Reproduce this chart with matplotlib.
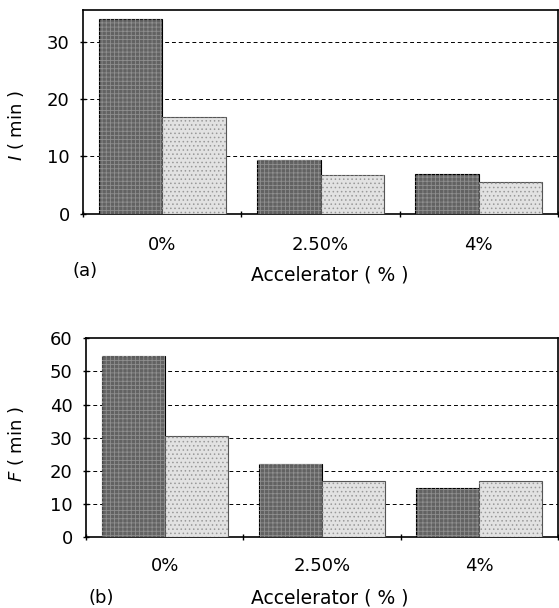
import numpy as np
import matplotlib
matplotlib.use("Agg")
import matplotlib.pyplot as plt

categories = ["0%", "2.50%", "4%"]
i_dark = [34, 9.3, 6.9]
i_light = [16.8, 6.8, 5.5]
f_dark = [54.6, 22, 15]
f_light = [30.6, 17, 17]

plt.rcParams['font.family'] = ['DejaVu Sans']
plt.rcParams['hatch.linewidth'] = 0.6
FS = 13

fig = plt.figure(figsize=(5.59, 6.08), dpi=100)
ax_a = fig.add_axes([0.1485, 0.6488, 0.8497, 0.3347])
ax_b = fig.add_axes([0.1538, 0.1163, 0.8444, 0.3273])


def draw_panel(ax, dark, light, ymax, yticks, ylabel, xpad):
    x = np.arange(len(categories))
    w = 0.4
    # fill then texture on top
    ax.bar(x - w / 2, dark, w, color="#626262", edgecolor="black", linewidth=0.8, zorder=3)
    ax.bar(x - w / 2, dark, w, fill=False, hatch="++++", edgecolor="#8f8f8f", linewidth=0, zorder=4)
    ax.bar(x + w / 2, light, w, color="#e2e2e2", edgecolor="#555555", linewidth=0.8, zorder=3)
    ax.bar(x + w / 2, light, w, fill=False, hatch="....", edgecolor="#999999", linewidth=0, zorder=4)

    ax.set_xlim(-0.5, len(categories) - 0.5)
    ax.set_ylim(0, ymax)
    ax.set_yticks(yticks)
    ax.set_xticks(x)
    ax.set_xticklabels(categories)
    ax.set_xticks(np.arange(len(categories) + 1) - 0.5, minor=True)
    ax.tick_params(axis="x", which="major", length=0, pad=xpad, labelsize=FS)
    ax.tick_params(axis="x", which="minor", length=4, direction="inout", width=1)
    ax.tick_params(axis="y", length=5, direction="inout", width=1, labelsize=FS, pad=7)
    for yv in yticks[1:]:
        if yv < ymax:
            ax.axhline(yv, color="black", linestyle=(0, (4, 3)), linewidth=0.7, zorder=1)
    for s in ax.spines.values():
        s.set_linewidth(1.2)
    ax.set_ylabel(ylabel, fontsize=FS)


draw_panel(ax_a, i_dark, i_light, 35.5, [0, 10, 20, 30], r"$I$ ( min )", 16)
draw_panel(ax_b, f_dark, f_light, 60, [0, 10, 20, 30, 40, 50, 60], r"$F$ ( min )", 14)
ax_a.yaxis.set_label_coords(-0.12, 0.43)
ax_b.yaxis.set_label_coords(-0.127, 0.47)

fig.text(330 / 559, 1 - 275 / 608, "Accelerator ( % )", fontsize=FS + 0.5, ha="center", va="center")
fig.text(330 / 559, 1 - 598 / 608, "Accelerator ( % )", fontsize=FS + 0.5, ha="center", va="center")
fig.text(72 / 559, 1 - 271 / 608, "(a)", fontsize=FS, va="center")
fig.text(88 / 559, 1 - 598 / 608, "(b)", fontsize=FS, va="center")

fig.savefig("out.png", dpi=100)
